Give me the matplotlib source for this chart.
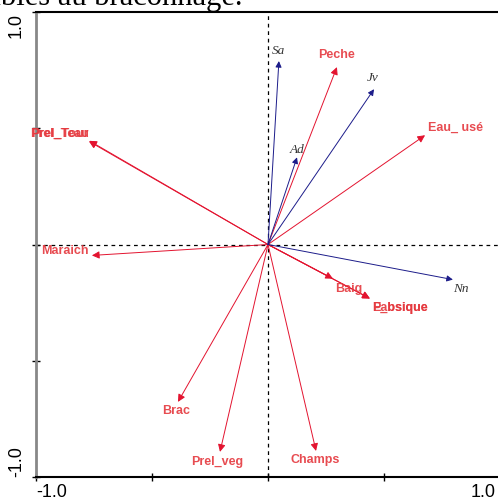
import numpy as np
import matplotlib.pyplot as plt

# species vectors (blue)
sp_names = ["Sa", "Jv", "Ad", "Nn"]
sp_x = [0.047, 0.457, 0.125, 0.797]
sp_y = [0.789, 0.668, 0.375, -0.151]
sp_lab_x = [0.047, 0.453, 0.125, 0.832]
sp_lab_y = [0.832, 0.715, 0.405, -0.190]

# environmental vectors (red)
env_names = ["Peche", "Eau_ usé", "Prel_Teau", "Prel_Tour", "Maraich", "Baig",
             "Pabsique", "E_bsique", "Brac", "Prel_veg", "Champs"]
env_x = [0.297, 0.677, -0.772, -0.770, -0.759, 0.280, 0.440, 0.438, -0.388, -0.207, 0.207]
env_y = [0.763, 0.470, 0.444, 0.446, -0.047, -0.147, -0.233, -0.231, -0.677, -0.892, -0.888]
env_lab_x = [0.297, 0.810, -0.897, -0.897, -0.875, 0.349, 0.569, 0.569, -0.397, -0.220, 0.205]
env_lab_y = [0.815, 0.500, 0.478, 0.478, -0.030, -0.190, -0.272, -0.272, -0.715, -0.935, -0.925]

fig = plt.figure(figsize=(4.98, 5.01), dpi=100)
ax = fig.add_axes([36 / 498, 24 / 501, 464 / 498, 465 / 501])
ax.set_xlim(-1.0, 1.0)
ax.set_ylim(-1.0, 1.0)

ax.axhline(0, color="black", lw=0.9, ls=(0, (3, 3)))
ax.axvline(0, color="black", lw=0.9, ls=(0, (3, 3)))

blue = "#1c1c8a"
red = "#e3132f"
red_txt = "#e5383e"

for x, y in zip(env_x, env_y):
    ax.annotate("", xy=(x, y), xytext=(0, 0),
                arrowprops=dict(arrowstyle="-|>", color=red, lw=0.7,
                                mutation_scale=11, shrinkA=0, shrinkB=0))
for x, y in zip(sp_x, sp_y):
    ax.annotate("", xy=(x, y), xytext=(0, 0),
                arrowprops=dict(arrowstyle="-|>", color=blue, lw=0.7,
                                mutation_scale=9, shrinkA=0, shrinkB=0))

for n, x, y in zip(env_names, env_lab_x, env_lab_y):
    ax.text(x, y, n, color=red_txt, fontsize=9, fontweight="bold",
            family="Liberation Sans", ha="center", va="center", alpha=0.9)
for n, x, y in zip(sp_names, sp_lab_x, sp_lab_y):
    ax.text(x, y, n, color="#333333", fontsize=9.5, style="italic",
            family="Liberation Serif", ha="center", va="center")

ax.spines["left"].set_color("#888888")
ax.spines["left"].set_linewidth(2)
ax.spines["bottom"].set_linewidth(1.5)
ax.spines["top"].set_linewidth(1.5)
ax.spines["right"].set_visible(False)

ax.set_xticks([-1.0, -0.5, 0, 0.5, 1.0])
ax.set_yticks([-1.0, -0.5, 0, 0.5, 1.0])
ax.set_xticklabels([])
ax.set_yticklabels([])
ax.tick_params(direction="inout", length=6, width=1)

ax.text(0.0, -0.014, "-1.0", transform=ax.transAxes, ha="left", va="top",
        fontsize=13, family="Liberation Sans")
ax.text(0.99, -0.014, "1.0", transform=ax.transAxes, ha="right", va="top",
        fontsize=13, family="Liberation Sans")
ax.text(-0.024, 0.997, "1.0", transform=ax.transAxes, ha="right", va="top",
        rotation=90, fontsize=13, family="Liberation Sans")
ax.text(-0.024, 0.0, "-1.0", transform=ax.transAxes, ha="right", va="bottom",
        rotation=90, fontsize=13, family="Liberation Sans")

fig.text(242 / 498, 1 - 5 / 501, "sensibles au braconnage.", ha="right",
         va="baseline", fontsize=22, family="Liberation Serif")

fig.savefig("out.png", dpi=100)
